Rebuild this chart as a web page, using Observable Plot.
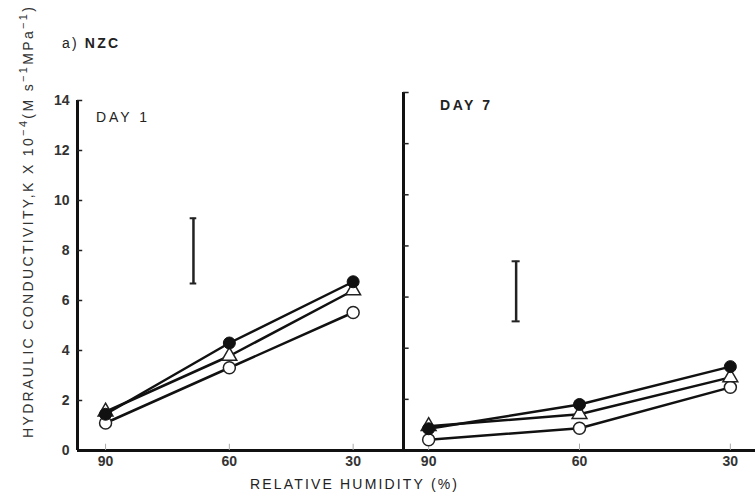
<!DOCTYPE html>
<html><head><meta charset="utf-8">
<script src="https://cdn.jsdelivr.net/npm/d3@7"></script>
<script src="https://cdn.jsdelivr.net/npm/@observablehq/plot@0.6"></script>
<style>
body{margin:0;background:#fff;}
#wrap{position:relative;width:756px;height:500px;overflow:hidden;background:#fff;font-family:"Liberation Sans",Arial,sans-serif;}
#wrap > svg{position:absolute;top:0;}
</style></head><body><div id="wrap"></div>
<script>
// Relative humidity (%) categories
const humidity = [90, 60, 30];
// Day 1 hydraulic conductivity (x10^-4 M s^-1 MPa^-1)
const day1Filled = [1.45, 4.3, 6.75];
const day1Triangle = [1.55, 3.78, 6.4];
const day1Open = [1.1, 3.31, 5.52];
// Day 7
const day7Filled = [0.85, 1.8, 3.28];
const day7Triangle = [0.95, 1.42, 2.86];
const day7Open = [0.42, 0.87, 2.47];
// LSD bars
const lsdX = [68.7, 72.6];
const lsdLow = [6.68, 5.05];
const lsdHigh = [9.29, 7.4];
// y ticks
const yTicks = [0, 2, 4, 6, 8, 10, 12, 14];
const dayLabels = ["DAY 1", "DAY 7"];

const font = "'Liberation Sans', Arial, sans-serif";

function rows(vals) { return humidity.map((h, i) => ({h, v: vals[i]})); }

function panel({left, width, mL, mR, mT, mB, xDom, filled, tri, open, lsdI, tickLabels}) {
  const x0 = xDom[0], x1 = xDom[1];
  const lsd = [{x: lsdX[lsdI], lo: lsdLow[lsdI], hi: lsdHigh[lsdI]}];
  const capW = 0.8;
  const all = [
    ...rows(open).map(d => ({...d, s: "open"})),
    ...rows(tri).map(d => ({...d, s: "tri"})),
    ...rows(filled).map(d => ({...d, s: "filled"}))
  ];
  const marks = [
    Plot.ruleX([x0], {y1: 0, y2: 14, stroke: "#111", strokeWidth: 3}),
    Plot.ruleY([0], {x1: x0, x2: x1, stroke: "#111", strokeWidth: 3}),
    Plot.ruleY(yTicks.slice(1), {x1: x0, x2: x0 - (x0 - x1) * 0.016, stroke: "#222", strokeWidth: 1.5}),
    Plot.ruleX(humidity, {y1: 0, y2: 0.25, stroke: "#aaa", strokeWidth: 1}),
    Plot.axisX(humidity, {tickSize: 0, tickPadding: 6, fontWeight: "bold", fill: "#333", fontSize: 14}),
    Plot.line(all, {x: "h", y: "v", z: "s", stroke: "#111", strokeWidth: 2.5}),
    Plot.dot(rows(open), {x: "h", y: "v", r: 6, fill: "white", stroke: "#222", strokeWidth: 1.5}),
    Plot.dot(rows(tri), {x: "h", y: "v", r: 5.5, symbol: "triangle", fill: "white", stroke: "#222", strokeWidth: 1.5}),
    Plot.dot(rows(filled), {x: "h", y: "v", r: 6, fill: "#111", stroke: "#111", strokeWidth: 1}),
    Plot.ruleX(lsd, {x: "x", y1: "lo", y2: "hi", stroke: "#222", strokeWidth: 2.5}),
    Plot.ruleY(lsd, {y: "lo", x1: d => d.x + capW, x2: d => d.x - capW, stroke: "#222", strokeWidth: 2}),
    Plot.ruleY(lsd, {y: "hi", x1: d => d.x + capW, x2: d => d.x - capW, stroke: "#222", strokeWidth: 2})
  ];
  if (tickLabels) {
    marks.push(Plot.axisY(yTicks, {tickSize: 0, tickPadding: 8, fontWeight: "bold", fill: "#333", fontSize: 14}));
  }
  const svg = Plot.plot({
    width, height: 500,
    marginLeft: mL, marginRight: mR, marginTop: mT, marginBottom: mB,
    x: {type: "linear", domain: xDom, axis: null},
    y: {type: "linear", domain: [0, 14], axis: null},
    style: {fontFamily: font, fontSize: "13px", background: "transparent", overflow: "visible"},
    marks
  });
  svg.style.left = left + "px";
  return svg;
}

const wrap = document.getElementById("wrap");
wrap.appendChild(panel({left: 0, width: 405, mL: 77, mR: 2, mT: 100, mB: 50, xDom: [96.8, 17.8],
  filled: day1Filled, tri: day1Triangle, open: day1Open, lsdI: 0, tickLabels: true}));
wrap.appendChild(panel({left: 380, width: 376, mL: 23, mR: 1, mT: 92, mB: 50, xDom: [95, 25],
  filled: day7Filled, tri: day7Triangle, open: day7Open, lsdI: 1, tickLabels: false}));

const ns = "http://www.w3.org/2000/svg";
const ov = document.createElementNS(ns, "svg");
ov.setAttribute("width", 756); ov.setAttribute("height", 500);
ov.style.left = "0px";
ov.style.pointerEvents = "none";
ov.innerHTML = `
<g font-family="${font}" fill="#222">
  <text x="62" y="48" font-size="14" textLength="56" lengthAdjust="spacing">a) <tspan font-weight="bold">NZC</tspan></text>
  <text x="96" y="122" font-size="14" textLength="51" lengthAdjust="spacing">${dayLabels[0]}</text>
  <text x="440" y="110" font-size="14" font-weight="bold" textLength="50" lengthAdjust="spacing">${dayLabels[1]}</text>
  <text x="250" y="489" font-size="14" textLength="207" lengthAdjust="spacing">RELATIVE  HUMIDITY (%)</text>
  <text transform="translate(33,438) rotate(-90)" font-size="14" fill="#333" textLength="431" lengthAdjust="spacing">HYDRAULIC  CONDUCTIVITY,K X 10<tspan dy="-6" font-size="11">−4</tspan><tspan dy="6">(M s</tspan><tspan dy="-6" font-size="11">−1</tspan><tspan dy="6">MPa</tspan><tspan dy="-6" font-size="11">−1</tspan><tspan dy="6">)</tspan></text>
</g>`;
wrap.appendChild(ov);
</script>
</body></html>
